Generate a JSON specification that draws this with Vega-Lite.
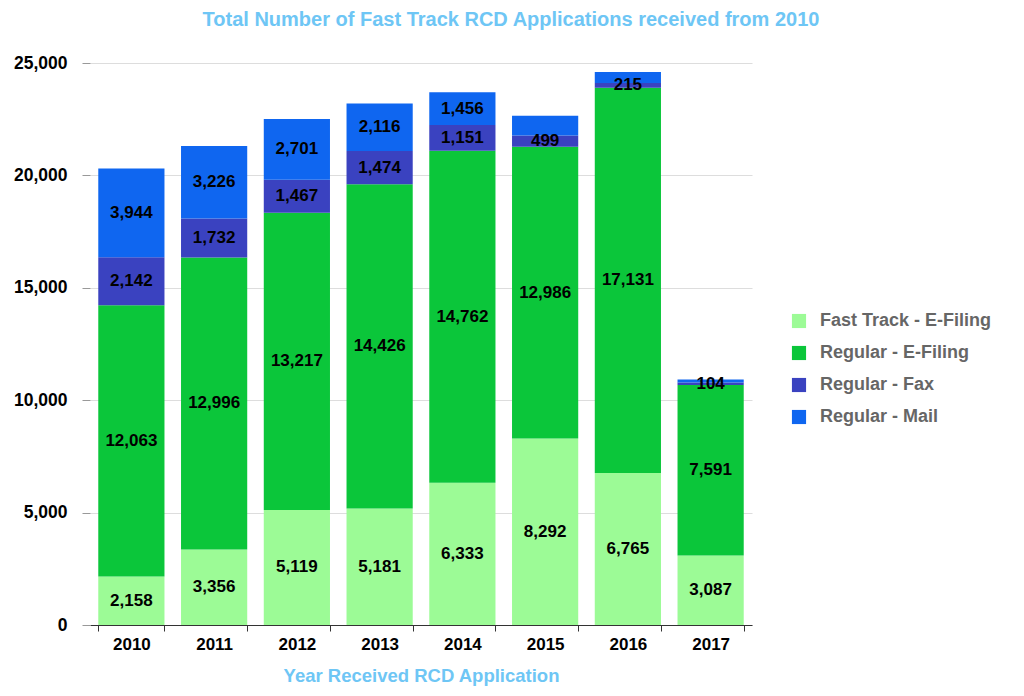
{
  "$schema": "https://vega.github.io/schema/vega-lite/v6.json",
  "autosize": "none",
  "width": 662,
  "height": 562,
  "padding": {"left": 90, "top": 63, "right": 272, "bottom": 71},
  "background": "white",
  "title": {
    "text": "Total Number of Fast Track RCD Applications received from 2010",
    "color": "#6ec6f5",
    "fontSize": 20,
    "font": "Liberation Sans",
    "fontWeight": "bold",
    "anchor": "middle",
    "offset": 24,
    "dx": 90
  },
  "data": {
    "values": [
      {"year": "2010", "series": "Fast Track - E-Filing", "value": 2158},
      {"year": "2010", "series": "Regular - E-Filing", "value": 12063},
      {"year": "2010", "series": "Regular - Fax", "value": 2142},
      {"year": "2010", "series": "Regular - Mail", "value": 3944},
      {"year": "2011", "series": "Fast Track - E-Filing", "value": 3356},
      {"year": "2011", "series": "Regular - E-Filing", "value": 12996},
      {"year": "2011", "series": "Regular - Fax", "value": 1732},
      {"year": "2011", "series": "Regular - Mail", "value": 3226},
      {"year": "2012", "series": "Fast Track - E-Filing", "value": 5119},
      {"year": "2012", "series": "Regular - E-Filing", "value": 13217},
      {"year": "2012", "series": "Regular - Fax", "value": 1467},
      {"year": "2012", "series": "Regular - Mail", "value": 2701},
      {"year": "2013", "series": "Fast Track - E-Filing", "value": 5181},
      {"year": "2013", "series": "Regular - E-Filing", "value": 14426},
      {"year": "2013", "series": "Regular - Fax", "value": 1474},
      {"year": "2013", "series": "Regular - Mail", "value": 2116},
      {"year": "2014", "series": "Fast Track - E-Filing", "value": 6333},
      {"year": "2014", "series": "Regular - E-Filing", "value": 14762},
      {"year": "2014", "series": "Regular - Fax", "value": 1151},
      {"year": "2014", "series": "Regular - Mail", "value": 1456},
      {"year": "2015", "series": "Fast Track - E-Filing", "value": 8292},
      {"year": "2015", "series": "Regular - E-Filing", "value": 12986},
      {"year": "2015", "series": "Regular - Fax", "value": 499},
      {"year": "2015", "series": "Regular - Mail", "value": 880},
      {"year": "2016", "series": "Fast Track - E-Filing", "value": 6765},
      {"year": "2016", "series": "Regular - E-Filing", "value": 17131},
      {"year": "2016", "series": "Regular - Fax", "value": 215},
      {"year": "2016", "series": "Regular - Mail", "value": 490},
      {"year": "2017", "series": "Fast Track - E-Filing", "value": 3087},
      {"year": "2017", "series": "Regular - E-Filing", "value": 7591},
      {"year": "2017", "series": "Regular - Fax", "value": 104},
      {"year": "2017", "series": "Regular - Mail", "value": 140}
    ]
  },
  "config": {
    "view": {"stroke": null},
    "font": "Liberation Sans"
  },
  "layer": [
    {
      "mark": {"type": "bar"},
      "encoding": {
        "x": {
          "field": "year",
          "type": "nominal",
          "scale": {"paddingInner": 0.2, "paddingOuter": 0.1},
          "axis": {
            "title": "Year Received RCD Application",
            "titleColor": "#6ec6f5",
            "titleFontSize": 18.5,
            "titleFontWeight": "bold",
            "titlePadding": 14,
            "labelAngle": 0,
            "labelFontSize": 17,
            "labelFontWeight": "bold",
            "labelColor": "#000000",
            "labelPadding": 5,
            "domainColor": "#333333",
            "tickColor": "#333333",
            "tickSize": 6,
            "tickBand": "extent"
          }
        },
        "y": {
          "field": "value",
          "type": "quantitative",
          "aggregate": "sum",
          "scale": {"domain": [0, 25000], "nice": false},
          "axis": {
            "title": null,
            "format": ",d",
            "values": [0, 5000, 10000, 15000, 20000, 25000],
            "labelFontSize": 17.5,
            "labelFontWeight": "bold",
            "labelColor": "#000000",
            "labelPadding": 15,
            "domain": false,
            "tickColor": "#999999",
            "tickSize": 8,
            "gridColor": "#dddddd"
          }
        },
        "order": {"field": "series", "sort": "ascending"},
        "color": {
          "field": "series",
          "type": "nominal",
          "scale": {
            "domain": ["Fast Track - E-Filing", "Regular - E-Filing", "Regular - Fax", "Regular - Mail"],
            "range": ["#9cfb96", "#0bc63a", "#3a42c0", "#0f66f0"]
          },
          "legend": {
            "title": null,
            "orient": "none",
            "legendX": 700,
            "legendY": 249,
            "symbolType": "square",
            "symbolSize": 200,
            "symbolStrokeWidth": 0,
            "labelFontSize": 18,
            "labelFontWeight": "bold",
            "labelColor": "#666666",
            "labelLimit": 300,
            "rowPadding": 14,
            "labelOffset": 12
          }
        }
      }
    },
    {
      "transform": [
        {"stack": "value", "groupby": ["year"], "sort": [{"field": "series", "order": "ascending"}], "as": ["v0", "v1"]},
        {"filter": "!(datum.series === 'Regular - Mail' && datum.value < 1000)"},
        {"calculate": "(datum.v0 + datum.v1) / 2", "as": "mid"}
      ],
      "mark": {"type": "text", "fontSize": 17, "fontWeight": "bold", "color": "#000000", "baseline": "middle"},
      "encoding": {
        "x": {"field": "year", "type": "nominal"},
        "y": {"field": "mid", "type": "quantitative"},
        "text": {"field": "value", "type": "quantitative", "format": ",d"}
      }
    }
  ]
}
